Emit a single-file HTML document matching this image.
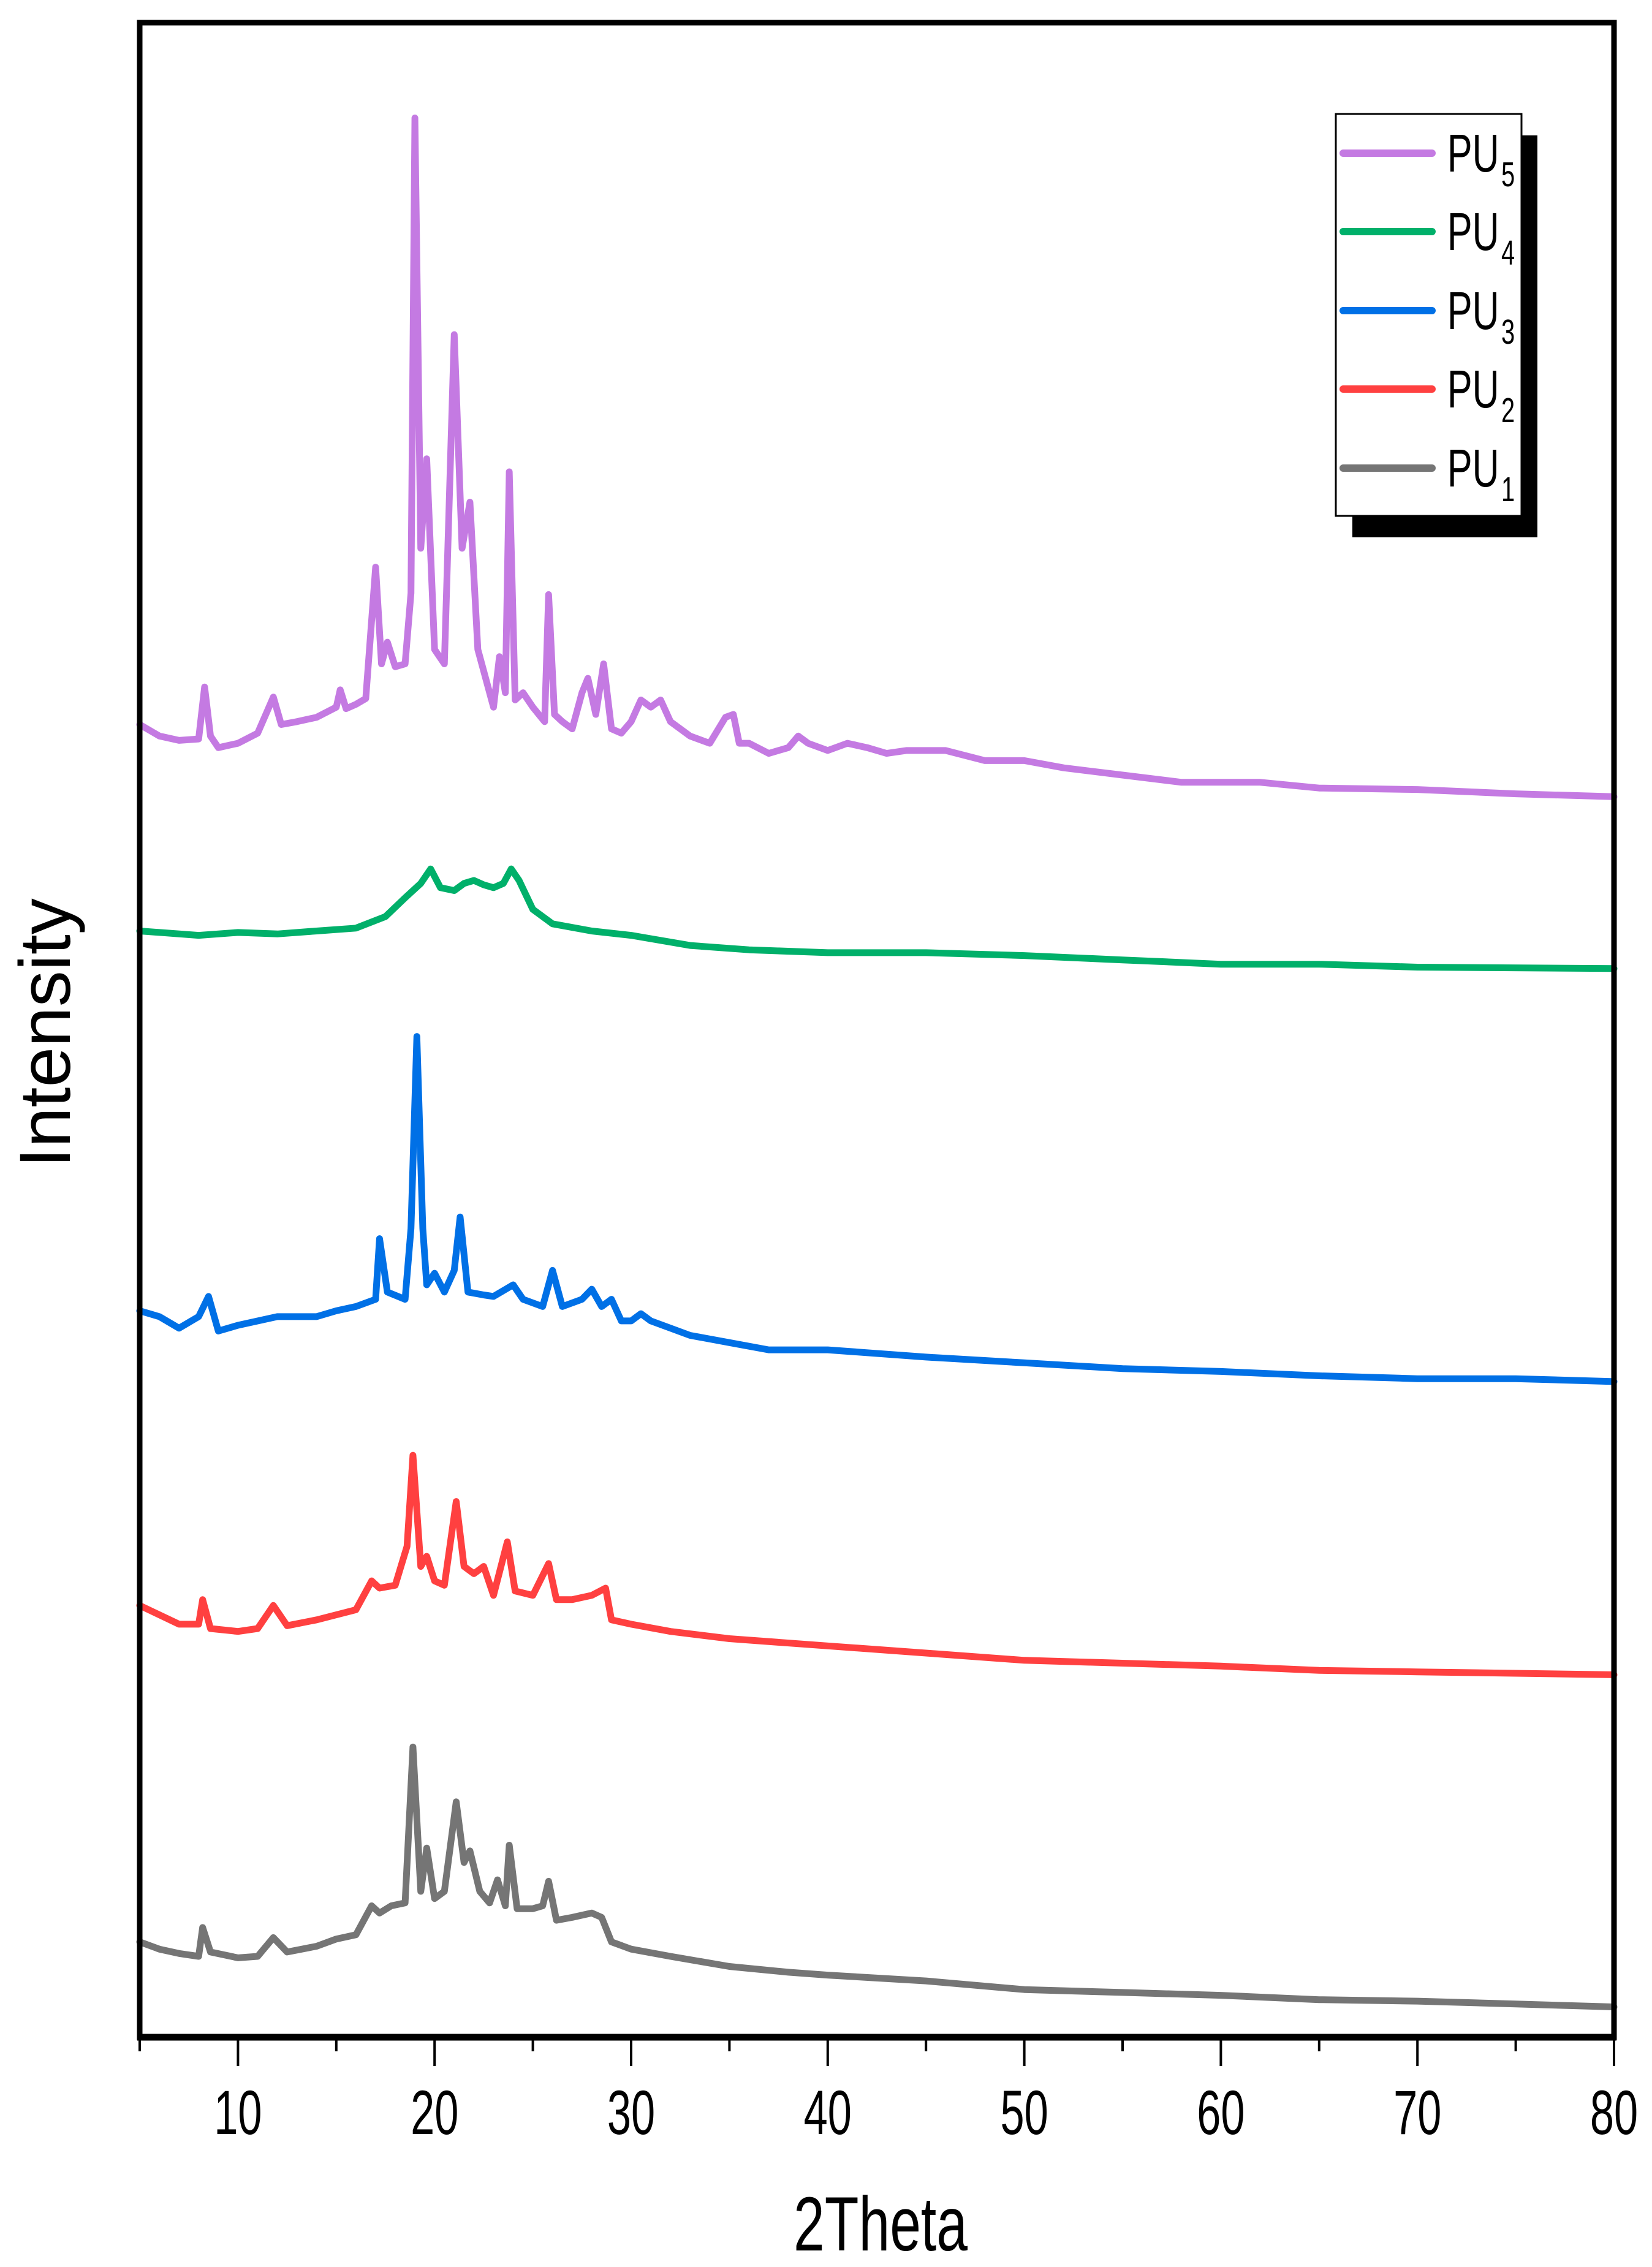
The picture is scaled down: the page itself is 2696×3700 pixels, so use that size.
<!DOCTYPE html>
<html><head><meta charset="utf-8"><style>
html,body{margin:0;padding:0;background:#fff;}
svg{display:block;font-family:"Liberation Sans",Arial,sans-serif;}
</style></head><body>
<svg id="chart" width="2696" height="3700" viewBox="0 0 2696 3700" xmlns="http://www.w3.org/2000/svg">
<rect x="0" y="0" width="2696" height="3700" fill="#fff"/>
<g id="series"></g>
<rect x="228" y="37" width="2406" height="3288" fill="none" stroke="#000" stroke-width="9"/>
<line x1="224" y1="3325" x2="2638" y2="3325" stroke="#000" stroke-width="11"/>
<g id="ticks"></g>
<text transform="translate(1437,3673) scale(0.73,1)" text-anchor="middle" font-size="125">2Theta</text>
<text transform="translate(114,1686) rotate(-90)" text-anchor="middle" font-size="118">Intensity</text>
<g>
<rect x="2207" y="221" width="302" height="656" fill="#000"/>
<rect x="2180" y="186" width="303" height="656" fill="#fff" stroke="#000" stroke-width="3"/>
<g id="legendItems"></g>
</g>
</svg>
<script>
var xTicks=[10,20,30,40,50,60,70,80];
var xMinor=[5,15,25,35,45,55,65,75];
var pu5x=[5,6,7,8,8.3,8.6,9,10,11,11.8,12.2,13,14,15,15.2,15.5,16,16.5,17,17.3,17.6,18,18.5,18.8,19,19.3,19.6,20,20.5,21,21.4,21.8,22.2,22.6,23,23.3,23.6,23.8,24.1,24.5,25,25.6,25.8,26.1,26.5,27,27.5,27.8,28.2,28.6,29,29.5,30,30.5,31,31.5,32,33,34,34.8,35.2,35.5,36,37,38,38.5,39,40,41,42,43,44,46,48,50,52,55,58,60,62,65,70,75,80];
var pu5y=[909,901,898,899,935,901,893,896,903,928,909,911,914,921,933,920,923,927,1018,951,966,949,951,1000,1329,1031,1093,961,951,1179,1031,1063,961,941,921,956,931,1084,926,931,921,911,999,916,911,906,931,941,916,951,906,903,911,926,921,926,911,901,896,914,916,896,896,889,893,901,896,891,896,893,889,891,891,884,884,879,874,869,869,869,865,864,861,859];
var pu4x=[5,8,10,12,14,16,17.5,18.5,19.3,19.8,20.3,21,21.5,22,22.5,23,23.5,23.9,24.3,25,26,28,30,33,36,40,45,50,55,60,65,70,80];
var pu4y=[766,763,765,764,766,768,776,789,799,809,796,794,799,801,798,796,799,809,801,781,771,766,763,756,753,751,751,749,746,743,743,741,740];
var pu3x=[5,6,7,8,8.5,9,10,12,14,15,16,17,17.2,17.6,18.5,18.8,19.1,19.4,19.6,20,20.5,21,21.3,21.7,22.5,23,24,24.5,25.5,26,26.5,27.5,28,28.5,29,29.5,30,30.5,31,33,35,37,40,45,50,55,60,65,70,75,80];
var pu3y=[503,499,491,499,513,489,493,499,499,503,506,511,553,516,511,560,693,560,521,529,516,531,568,516,514,513,521,511,506,531,506,511,518,506,511,496,496,501,496,486,481,476,476,471,467,463,461,458,456,456,454];
var pu2x=[5,7,8,8.2,8.6,10,11,11.8,12.5,14,16,16.8,17.2,18,18.6,18.9,19.3,19.6,20,20.5,21.1,21.5,22,22.5,23,23.7,24.1,25,25.8,26.2,27,28,28.7,29,30,32,35,40,45,50,55,60,65,70,80];
var pu2y=[299,286,286,303,283,281,283,299,285,289,296,316,311,313,340,403,326,333,316,313,371,326,321,326,306,343,309,306,328,303,303,306,311,289,286,281,276,271,266,261,259,257,254,253,251];
var pu1x=[5,6,7,8,8.2,8.6,10,11,11.8,12.5,14,15,16,16.8,17.2,17.8,18.5,18.9,19.3,19.6,20,20.5,21.1,21.5,21.8,22.3,22.8,23.2,23.6,23.8,24.2,25,25.5,25.8,26.2,27,28,28.5,29,30,32,35,38,40,45,50,55,60,65,70,75,80];
var pu1y=[66,61,58,56,76,59,55,56,69,59,63,68,71,91,86,91,93,201,101,131,96,101,163,121,129,101,93,109,91,133,89,89,91,108,81,83,86,83,66,61,56,49,45,43,39,33,31,29,26,25,23,21];
var seriesNames=["PU5","PU4","PU3","PU2","PU1"];
var subs=["5","4","3","2","1"];
var colors=["#c47ae2","#00b06a","#0070e6","#ff4040","#757575"];

var NS="http://www.w3.org/2000/svg";
var X0=228,X1=2634,XMIN=5,XMAX=80;
var Y0=3325,YK=2.357;
function sx(x){return X0+(x-XMIN)*(X1-X0)/(XMAX-XMIN);}
function sy(v){return Y0-v*YK;}
var xs=[pu5x,pu4x,pu3x,pu2x,pu1x], ys=[pu5y,pu4y,pu3y,pu2y,pu1y];
var sg=document.getElementById('series');
for(var i=0;i<5;i++){
  var pts=[];
  for(var j=0;j<xs[i].length;j++){pts.push(sx(xs[i][j]).toFixed(1)+','+sy(ys[i][j]).toFixed(1));}
  var pl=document.createElementNS(NS,'polyline');
  pl.setAttribute('points',pts.join(' '));
  pl.setAttribute('fill','none');
  pl.setAttribute('stroke',colors[i]);
  pl.setAttribute('stroke-width','11');
  pl.setAttribute('stroke-linejoin','round');
  pl.setAttribute('stroke-linecap','round');
  
  
  sg.appendChild(pl);
}
var tg=document.getElementById('ticks');
xTicks.forEach(function(t){
  var l=document.createElementNS(NS,'line');
  l.setAttribute('x1',sx(t));l.setAttribute('x2',sx(t));
  l.setAttribute('y1',3325);l.setAttribute('y2',3372);
  l.setAttribute('stroke','#000');l.setAttribute('stroke-width','4');
  
  
  tg.appendChild(l);
  var tx=document.createElementNS(NS,'text');
  tx.setAttribute('transform','translate('+sx(t)+',3483) scale(0.69,1)');
  tx.setAttribute('text-anchor','middle');
  tx.setAttribute('font-size','102');
  tx.textContent=String(t);
  
  
  tg.appendChild(tx);
});
xMinor.forEach(function(t){
  var l=document.createElementNS(NS,'line');
  l.setAttribute('x1',sx(t));l.setAttribute('x2',sx(t));
  l.setAttribute('y1',3325);l.setAttribute('y2',3348);
  l.setAttribute('stroke','#000');l.setAttribute('stroke-width','4');
  
  
  tg.appendChild(l);
});
var lg=document.getElementById('legendItems');
var rowY=[250,378,507,635,764];
for(var k=0;k<5;k++){
  var ln=document.createElementNS(NS,'line');
  ln.setAttribute('x1',2192);ln.setAttribute('x2',2337);
  ln.setAttribute('y1',rowY[k]);ln.setAttribute('y2',rowY[k]);
  ln.setAttribute('stroke',colors[k]);ln.setAttribute('stroke-width','12');
  ln.setAttribute('stroke-linecap','round');
  
  
  lg.appendChild(ln);
  var t1=document.createElementNS(NS,'text');
  t1.setAttribute('transform','translate(2362,'+(rowY[k]+30)+') scale(0.7,1)');
  t1.setAttribute('font-size','87');
  t1.textContent='PU';
  
  
  lg.appendChild(t1);
  var t2=document.createElementNS(NS,'text');
  t2.setAttribute('transform','translate(2450,'+(rowY[k]+54)+') scale(0.7,1)');
  t2.setAttribute('font-size','57');
  t2.textContent=subs[k];
  
  
  lg.appendChild(t2);
}
</script>
</body></html>
